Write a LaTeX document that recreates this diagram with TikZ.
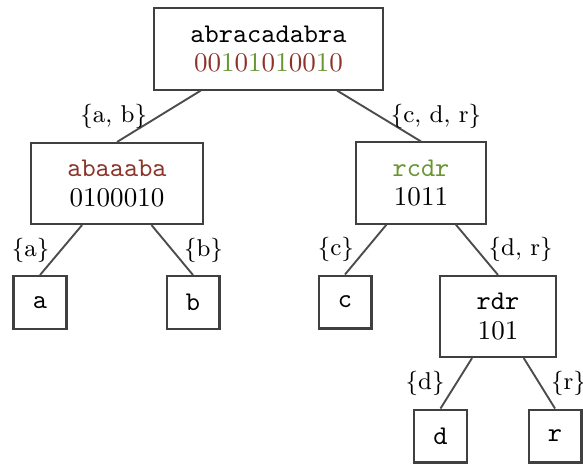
\documentclass[tikz,border=0pt]{standalone}
\usepackage{amsmath,amssymb}
\usepackage{xcolor}
\usepackage{tikz}
\usetikzlibrary{calc}

\definecolor{zerocol}{RGB}{139,52,42}
\definecolor{onecol}{RGB}{104,150,52}
\newcommand{\zb}{\textcolor{zerocol}{0}}
\newcommand{\ob}{\textcolor{onecol}{1}}

\tikzset{
  wnode/.style={draw=black!75,line width=0.75pt,align=center,inner xsep=13.5pt,
    inner ysep=0pt,minimum height=30pt,font=\ttfamily},
  leaf/.style={draw=black!75,line width=0.75pt,minimum size=19.6pt,inner sep=0pt,
    font=\ttfamily},
  branch/.style={draw=black!70,line width=0.7pt},
  lab/.style={font=\small,inner sep=4pt}
}

\begin{document}
\begin{tikzpicture}[x=0.37pt,y=-0.37pt]
\useasboundingbox (0,0) rectangle (583,464);

% Wavelet tree nodes
\node[wnode] (root) at (268.5,49) {abracadabra\\[-1pt]\rmfamily\zb\zb\ob\zb\ob\zb\ob\zb\zb\ob\zb};
\node[wnode] (ab) at (117,183.5) {\textcolor{zerocol}{abaaaba}\\[-1pt]\rmfamily 0100010};
\node[wnode] (cdr) at (421,183) {\textcolor{onecol}{rcdr}\\[-1pt]\rmfamily 1011};
\node[wnode] (dr) at (498,316.5) {rdr\\[-1pt]\rmfamily 101};

% Leaves
\node[leaf] (a) at (40,302.5) {a};
\node[leaf] (b) at (193,302.5) {b};
\node[leaf] (c) at (345,302) {c};
\node[leaf] (d) at (440.5,436) {d};
\node[leaf] (r) at (555,436) {r};

% Branches
\draw[branch] (root) -- (ab.north) node[midway,left,lab] {$\{$a, b$\}$};
\draw[branch] (root) -- (cdr.north) node[midway,right,lab] {$\{$c, d, r$\}$};
\draw[branch] (ab) -- (a.north) node[midway,left,lab] {$\{$a$\}$};
\draw[branch] (ab) -- (b.north) node[midway,right,lab] {$\{$b$\}$};
\draw[branch] (cdr) -- (c.north) node[midway,left,lab] {$\{$c$\}$};
\draw[branch] (cdr) -- (dr.north) node[midway,right,lab] {$\{$d, r$\}$};
\draw[branch] (dr) -- (d.north) node[midway,left,lab] {$\{$d$\}$};
\draw[branch] (dr) -- (r.north) node[midway,right,lab] {$\{$r$\}$};
\end{tikzpicture}
\end{document}
